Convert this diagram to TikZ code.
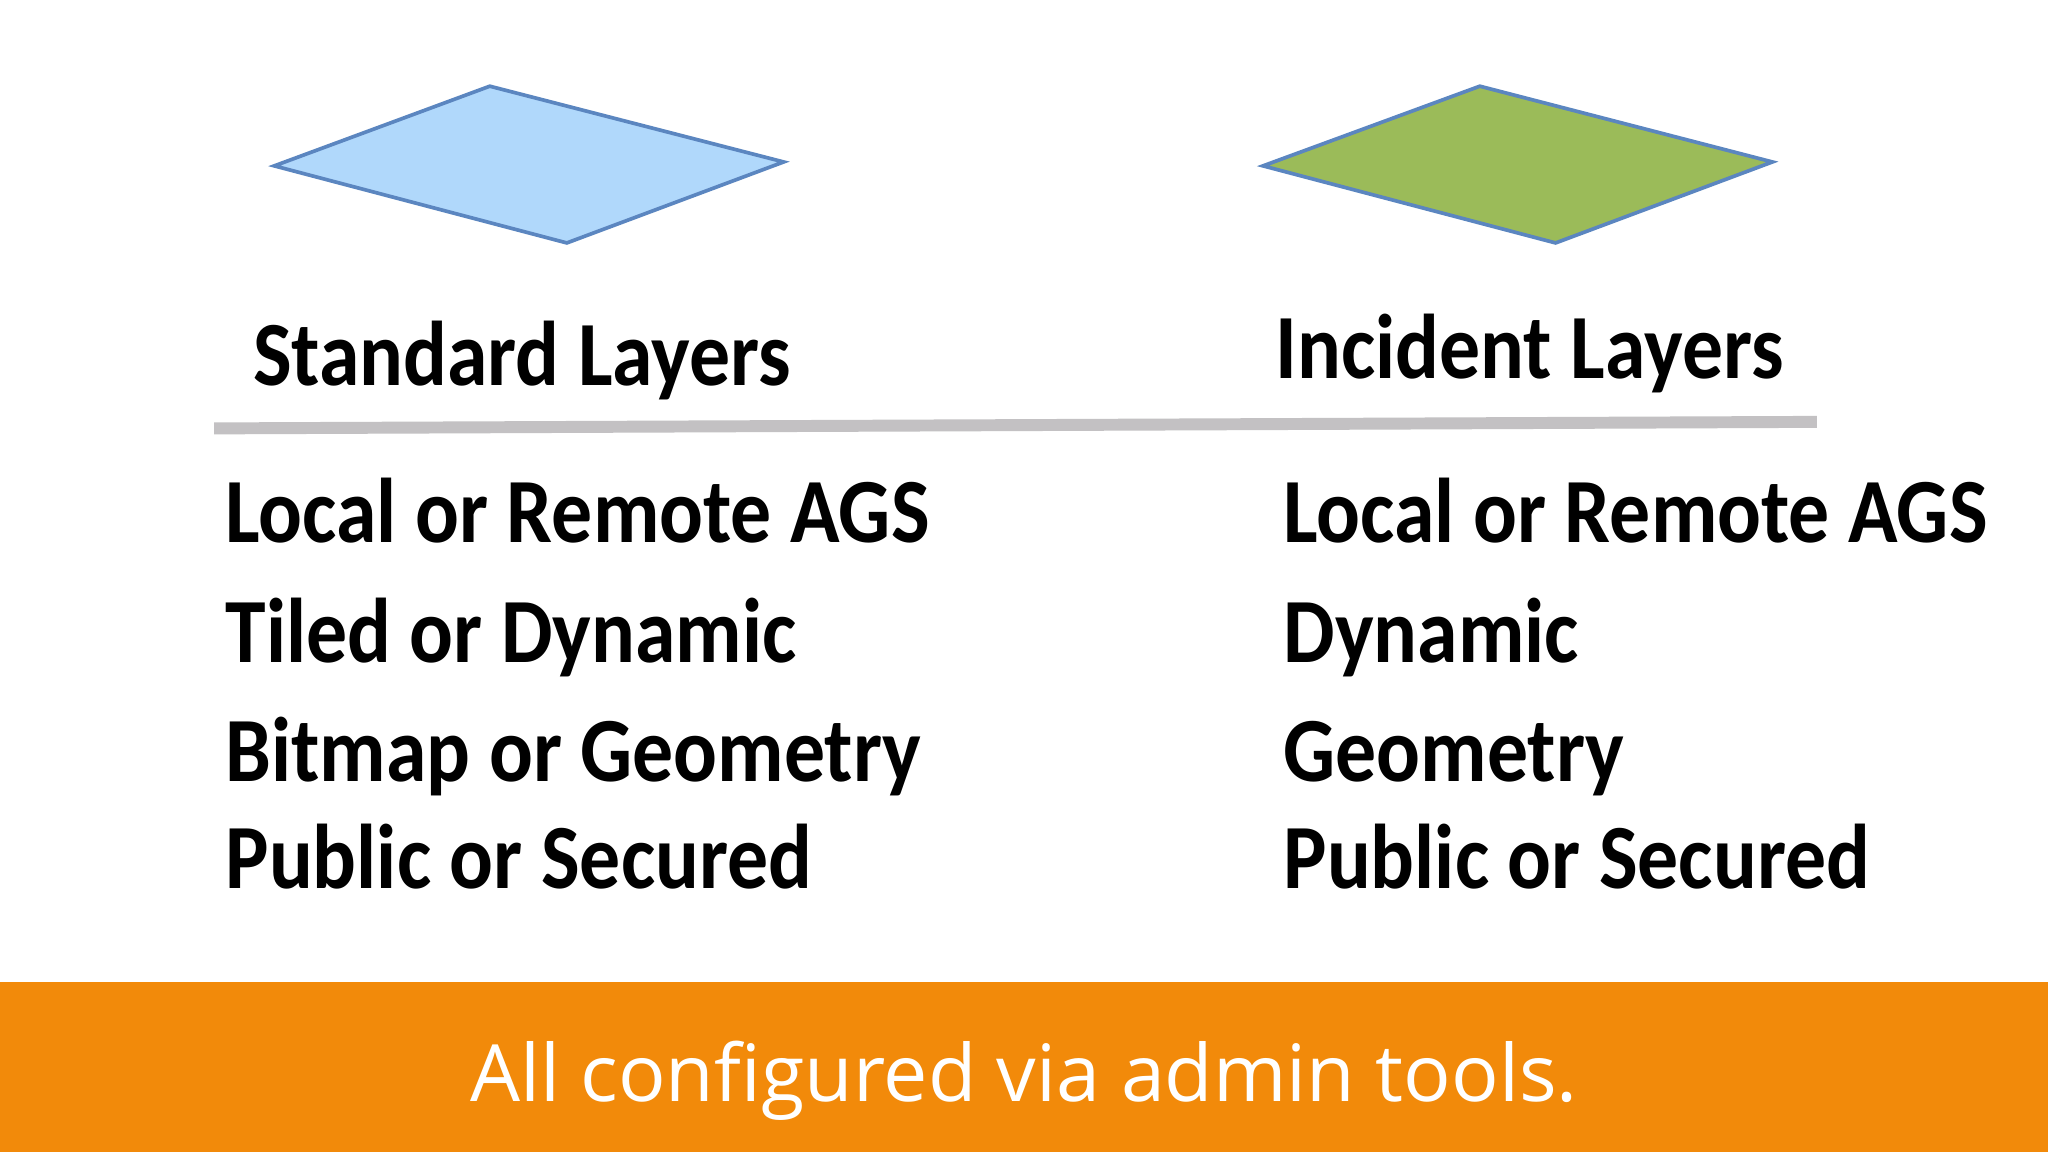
\documentclass[tikz,border=0pt]{standalone}
\usepackage{fontspec}
\setmainfont{Carlito}[FakeStretch=0.89]
\newfontfamily\osans{Open Sans}
\definecolor{lblue}{HTML}{B0D8FB}
\definecolor{lgreen}{HTML}{9BBB59}
\definecolor{edgeb}{HTML}{5B86C0}
\definecolor{rule}{HTML}{C3C1C3}
\definecolor{band}{HTML}{F28A0A}
\begin{document}
\begin{tikzpicture}[x=0.01cm,y=-0.01cm,
  item/.style={anchor=base west,inner sep=0pt,font=\fontsize{20}{24}\selectfont\bfseries},
  layer/.style={draw=edgeb,line width=0.8pt}]
\useasboundingbox (0,0) rectangle (1568,882);
\fill[white] (0,0) rectangle (1568,882);
\filldraw[layer,fill=lblue] (210,127) -- (375,66) -- (600,124) -- (434,186) -- cycle;
\filldraw[layer,fill=lgreen] (967,127) -- (1133,66) -- (1357,124) -- (1191,186) -- cycle;
\coordinate (r1) at (164,328); \coordinate (r2) at (1391,323);
\draw[rule,line width=2.6pt] (r1) -- (r2);
\node[item] (h1) at (193,295) {Standard Layers};
\node[item] (h2) at (976,290) {Incident Layers};
\node[item] (a1) at (172,415) {Local or Remote AGS};
\node[item] (a2) at (172,507) {Tiled or Dynamic};
\node[item] (a3) at (172,598) {Bitmap or Geometry};
\node[item] (a4) at (172,680) {Public or Secured};
\node[item] (b1) at (982,415) {Local or Remote AGS};
\node[item] (b2) at (982,507) {Dynamic};
\node[item] (b3) at (982,598) {Geometry};
\node[item] (b4) at (982,680) {Public or Secured};
\fill[band] (0,752) rectangle (1568,882);
\node[anchor=base,inner sep=0pt,text=white,font=\osans\fontsize{17.2}{20}\selectfont] (c) at (784,843) {All configured via admin tools.};
\end{tikzpicture}
\end{document}
